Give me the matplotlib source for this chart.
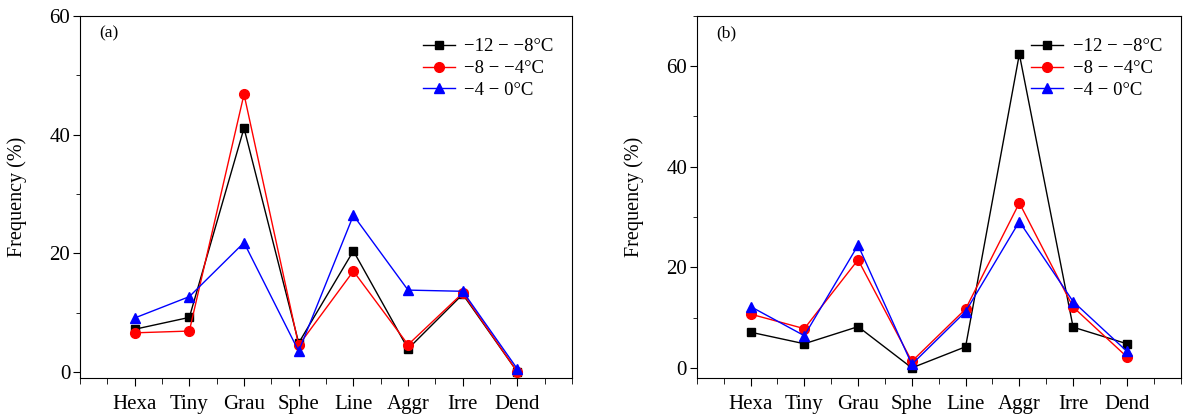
import numpy as np
import matplotlib
matplotlib.use("Agg")
import matplotlib.pyplot as plt
from matplotlib.ticker import MultipleLocator

plt.rcParams['font.family'] = ['Liberation Serif', 'DejaVu Serif']

cats = ["Hexa", "Tiny", "Grau", "Sphe", "Line", "Aggr", "Irre", "Dend"]
labels = ["\u221212 \u2212 \u22128\u00b0C", "\u22128 \u2212 \u22124\u00b0C", "\u22124 \u2212 0\u00b0C"]

# panel (a)
a_t1 = [7.2, 9.2, 41.1, 4.9, 20.4, 3.9, 13.1, 0.0]
a_t2 = [6.6, 6.9, 46.8, 4.5, 17.0, 4.6, 13.3, 0.0]
a_t3 = [9.1, 12.7, 21.8, 3.5, 26.4, 13.8, 13.6, 0.5]

# panel (b)
b_t1 = [7.1, 4.8, 8.2, 0.0, 4.2, 62.4, 8.1, 4.8]
b_t2 = [10.7, 7.8, 21.5, 1.3, 11.7, 32.8, 12.1, 2.2]
b_t3 = [12.2, 6.4, 24.4, 0.7, 11.2, 29.1, 13.2, 3.3]

fig = plt.figure(figsize=(11.83, 4.19), dpi=100)
ax1 = fig.add_axes([0.0676, 0.098, 0.416, 0.864])
ax2 = fig.add_axes([0.589, 0.098, 0.409, 0.864])

x = np.arange(1, len(cats) + 1)

def draw(ax, s1, s2, s3, ylim, tag):
    ax.plot(x, s1, color="black", marker="s", markersize=6, lw=1, label=labels[0])
    ax.plot(x, s2, color="red", marker="o", markersize=7, lw=1, label=labels[1])
    ax.plot(x, s3, color="blue", marker="^", markersize=7.5, lw=1, label=labels[2])
    ax.set_xlim(0, 9)
    ax.set_ylim(*ylim)
    ax.set_xticks(x)
    ax.set_xticklabels(cats, fontsize=15)
    ax.xaxis.set_minor_locator(MultipleLocator(0.5))
    ax.yaxis.set_major_locator(MultipleLocator(20))
    ax.yaxis.set_minor_locator(MultipleLocator(10))
    ax.tick_params(axis="y", which="major", labelsize=15, direction="out", length=5, pad=2)
    ax.tick_params(axis="y", which="minor", direction="out", length=3)
    ax.tick_params(axis="x", which="major", direction="out", length=6, pad=6)
    ax.tick_params(axis="x", which="minor", direction="out", length=4)
    ax.set_ylabel("Frequency (%)", fontsize=14.5, labelpad=16)
    ax.text(0.04, 0.953, tag, transform=ax.transAxes, fontsize=12.5, va="center")
    ax.legend(loc="upper right", frameon=False, fontsize=13.5, handlelength=1.7,
              borderaxespad=0.6, labelspacing=0.25, handletextpad=0.5,
              bbox_to_anchor=(1.0, 0.99))

draw(ax1, a_t1, a_t2, a_t3, (-1, 60), "(a)")
draw(ax2, b_t1, b_t2, b_t3, (-2, 70), "(b)")

fig.savefig("out.png", dpi=100)
